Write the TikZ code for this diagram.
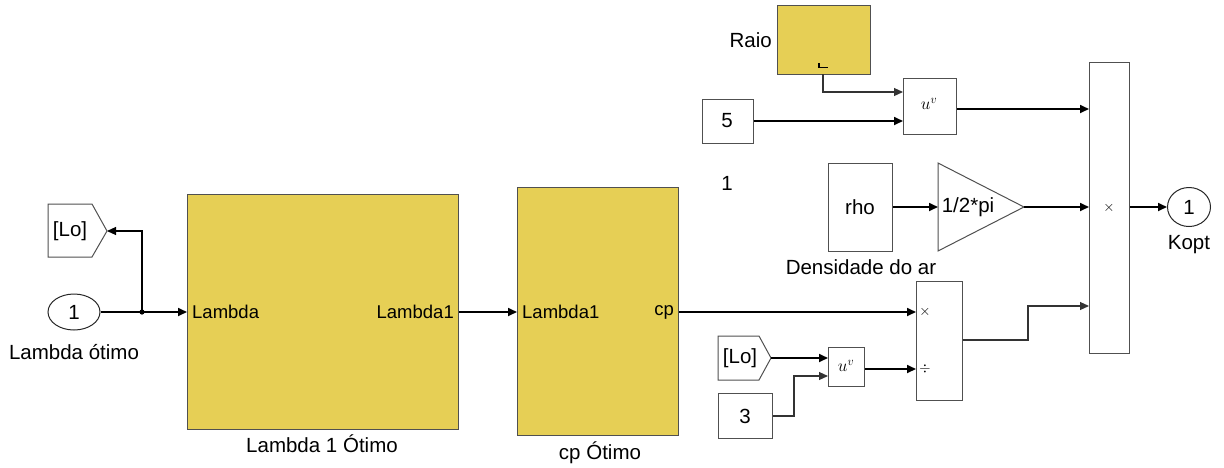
\documentclass[tikz,border=0pt]{standalone}
\usepackage{fontspec}
\setmainfont{Liberation Sans}
\usetikzlibrary{arrows.meta,shapes.geometric}
\definecolor{blk}{RGB}{230,207,85}
\definecolor{edge}{RGB}{80,80,80}
\begin{document}
\begin{tikzpicture}[x=1pt,y=-1pt,
  tip/.style={-{Triangle[length=9pt,width=8pt]}},
  wire/.style={line width=1.7pt,tip},
  thinwire/.style={line width=1.1pt,draw=black!80,tip},
  box/.style={draw=edge,line width=1pt,fill=white,inner sep=0pt,anchor=north west},
  ybox/.style={draw=edge,line width=1.2pt,fill=blk,inner sep=0pt,anchor=north west},
  port/.style={draw=black!85,line width=1pt,ellipse,inner sep=0pt},
  lbl/.style={font=\fontsize{20.5}{24}\selectfont,inner sep=0pt},
  plbl/.style={font=\fontsize{18.5}{22}\selectfont,inner sep=0pt},
  sml/.style={font=\fontsize{15}{15}\selectfont,inner sep=0pt},
  pwr/.style={font=\fontsize{17}{17}\selectfont,inner sep=0pt}]
\useasboundingbox (0,0) rectangle (1224,467);

% ---- left part ----
\node[port,minimum width=52,minimum height=36,lbl] (in1) at (74,312) {1};
\node[lbl] (in1lbl) at (74,352) {Lambda ótimo};
\coordinate (jn) at (142,312);
\fill (jn) circle (2.6pt);

\draw[edge,line width=1pt] (48,204) -- (92,204) -- (107,231) -- (92,257) -- (48,257) -- cycle;
\node[lbl] (lo1) at (70,231) {[Lo]};
\coordinate (lo1tip) at (107,231);

\node[ybox,minimum width=271,minimum height=235] (lam) at (187,194) {};
\node[plbl,anchor=west] (lamin) at (192,312) {Lambda};
\node[plbl,anchor=east] (lamout) at (454,312) {Lambda1};
\node[lbl] (lamlbl) at (322,444) {Lambda 1 Ótimo};

\node[ybox,minimum width=161,minimum height=248] (cpb) at (517,187) {};
\node[plbl,anchor=west] (cpin) at (522,312) {Lambda1};
\node[plbl,anchor=east] (cpout) at (674,312) {cp};
\node[lbl] (cplbl) at (600,453) {cp Ótimo};

\draw[line width=1.7pt] (in1.east) -- (jn);
\draw[wire] (jn) -- (lam.west |- jn);
\draw[line width=1.1pt,tip] (jn) -- (142,231) -- (lo1tip);
\draw[wire] (lam.east |- jn) -- (cpb.west |- jn);

% ---- divide block ----
\node[box,minimum width=46,minimum height=119] (dv) at (916,281) {};
\node[sml] (dvx) at (925,312) {$\times$};
\node[sml] (dvd) at (925,369) {$\div$};
\draw[wire] (cpb.east |- 0,312) -- (dv.west |- 0,312);

\draw[edge,line width=1pt] (718,336) -- (759,336) -- (771,358) -- (759,380) -- (718,380) -- cycle;
\node[lbl] (lo2) at (740,358) {[Lo]};
\coordinate (lo2tip) at (771,358);

\node[box,minimum width=36,minimum height=39] (pw2) at (828,347) {};
\node[pwr] (pw2t) at (846,366) {$u^{v}$};
\draw[wire] (lo2tip) -- (pw2.west |- lo2tip);
\draw[wire] (pw2.east |- 0,369) -- (dv.west |- 0,369);

\node[box,minimum width=54,minimum height=45,lbl] (c3) at (718,393) {};
\node[lbl] (c3t) at (745,416) {3};
\draw[thinwire] (c3.east |- 0,416) -- (794,416) -- (794,376) -- (pw2.west |- 0,376);

% ---- top part ----
\node[ybox,minimum width=93,minimum height=69] (raio) at (777,5) {};
\node[lbl,anchor=east] (raiolbl) at (772,40) {Raio};
\draw[line width=1.3pt] (819,63) -- (819,67.5) -- (828,67.5);

\node[box,minimum width=51,minimum height=44] (c5) at (702,99) {};
\node[lbl] (c5t) at (727,121) {5};

\node[box,minimum width=53,minimum height=56] (pw1) at (903,78) {};
\node[pwr] (pw1t) at (929,104) {$u^{v}$};

\draw[thinwire] (823,74) -- (823,92) -- (pw1.west |- 0,92);
\draw[wire] (c5.east |- 0,121) -- (pw1.west |- 0,121);

\node[lbl] (one) at (727,183) {1};

\node[box,minimum width=64,minimum height=88] (rho) at (828,163) {};
\node[lbl] (rhot) at (860,207) {rho};
\node[lbl] (dens) at (861,267) {Densidade do ar};

\coordinate (gin) at (938,207);
\coordinate (gout) at (1024,207);
\draw[edge,line width=1pt,fill=white] (938,163) -- (gout) -- (938,251) -- cycle;
\node[lbl] (gt) at (968,207) {1/2*pi};
\draw[wire] (rho.east |- gin) -- (gin);

% ---- big product ----
\node[box,minimum width=40,minimum height=291] (pr) at (1089,62) {};
\node[sml] (prx) at (1109,208) {$\times$};
\draw[wire] (pw1.east |- 0,109) -- (pr.west |- 0,109);
\draw[wire] (gout) -- (pr.west |- gout);
\draw[thinwire] (dv.east |- 0,340) -- (1028,340) -- (1028,306) -- (pr.west |- 0,306);

\node[port,minimum width=43,minimum height=39,lbl] (out1) at (1189,207) {1};
\node[lbl] (outlbl) at (1189,245) {Kopt};
\draw[wire] (pr.east |- out1) -- (out1.west);
\end{tikzpicture}
\end{document}
